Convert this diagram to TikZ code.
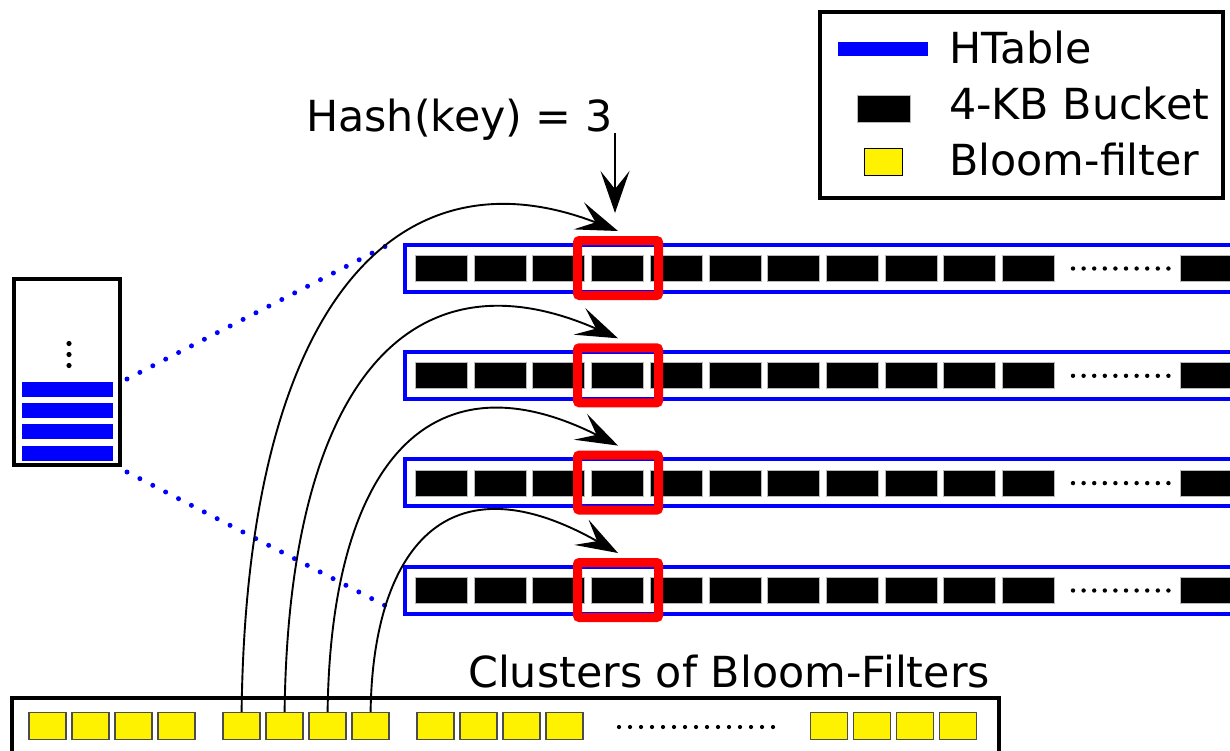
\documentclass[tikz,border=0pt]{standalone}
\usepackage{fontspec}
\setmainfont{DejaVu Sans}
\usetikzlibrary{arrows.meta}
\begin{document}
\begin{tikzpicture}[x=1pt,y=-1pt,
  bucket/.style={draw=gray!55,line width=1pt,fill=black,minimum width=52pt,minimum height=26pt,inner sep=0pt},
  htable/.style={draw=blue,line width=4pt},
  hit/.style={draw=red,line width=9pt,rounded corners=2pt,minimum width=81pt,minimum height=55pt,inner sep=0pt},
  bloom/.style={draw=black!70,line width=1.5pt,fill=yellow,minimum width=37pt,minimum height=27pt,inner sep=0pt},
  bar/.style={fill=blue,minimum width=91pt,minimum height=15pt,inner sep=0pt},
  link/.style={line width=1.9pt,-{Stealth[length=42pt,width=29pt,inset=18pt]}},
  lbl/.style={font=\fontsize{42.8}{50}\selectfont,inner sep=0pt,anchor=base west},
  dotline/.style={blue,line width=5pt,line cap=round,dash pattern=on 0pt off 14.5pt}]

\useasboundingbox (0,0) rectangle (1230,750);
\clip (0,0) rectangle (1230,750);

% ---- legend ----
\draw[line width=4pt] (820,12) rectangle (1223,198);
\fill[blue] (838,42) rectangle (928,56);
\node[bucket,minimum width=53pt,minimum height=27pt] (legbucket) at (883.5,108.5) {};
\node[bloom,draw=black,minimum width=38pt,minimum height=27pt] (legbloom) at (883.5,162) {};
\node[lbl] (legA) at (949,63) {HTable};
\node[lbl] (legB) at (949,119) {4-KB Bucket};
\node[lbl] (legC) at (949,175) {Bloom-filter};

% ---- hash tables with their buckets ----
\foreach \r/\yc in {1/268,2/375.3,3/482.6,4/590} {
  \draw[htable] (405,\yc-23.5) rectangle (1245,\yc+23.5);
  \foreach \k in {0,...,10}
    \node[bucket] (bk\r-\k) at ({441.5+58.7*\k},\yc+0.5) {};
  \node[bucket] (bk\r-last) at (1206,\yc+0.5) {};
  \foreach \d in {0,...,9}
    \fill (1073+10.6*\d,\yc+0.5) circle (2.2pt);
  \node[hit] (hit\r) at (618,\yc) {};
}

% ---- directory box on the left ----
\node[draw,line width=4pt,minimum width=106pt,minimum height=186pt,inner sep=0pt] (dir) at (67,372) {};
\foreach \i/\yy in {1/389,2/410,3/431.5,4/453}
  \node[bar] (bar\i) at (67.5,\yy) {};
\foreach \yy in {343.5,354.5,365.5}
  \fill (69,\yy) circle (2.6pt);

\coordinate (dirtop) at (127,379);
\coordinate (dirbot) at (127,472);
\coordinate (rowtop) at (386,246);
\coordinate (rowbot) at (386,606);
\draw[dotline] (dirtop) -- (rowtop);
\draw[dotline] (dirbot) -- (rowbot);

% ---- clusters of bloom filters ----
\draw[line width=3.5pt] (12,698) rectangle (999,765);
\node[lbl] (clab) at (468,687) {Clusters of Bloom-Filters};
\foreach \g/\x in {0/28.6,1/222.6,2/416.5,3/810}
  \foreach \j in {0,...,3}
    \node[bloom] (bf\g-\j) at ({\x+19+43*\j},726) {};
\foreach \d in {0,...,14}
  \fill (619+11*\d,727) circle (2.1pt);

% ---- lookups from the filters to the buckets ----
\draw[link] (bf1-0.north) .. controls +(5,-410) and +(-220,-85) .. ([yshift=5pt]hit1.north);
\draw[link] (bf1-1.north) .. controls +(4,-330) and +(-207,-91) .. ([yshift=5pt]hit2.north);
\draw[link] (bf1-2.north) .. controls +(3,-240) and +(-193,-97) .. ([yshift=5pt]hit3.north);
\draw[link] (bf1-3.north) .. controls +(2,-150) and +(-180,-102) .. ([yshift=5pt]hit4.north);

% ---- hash label ----
\node[lbl] (hash) at (306,131) {Hash(key) = 3};
\coordinate (hashtail) at (615,133);
\coordinate (hashtip) at (615,213);
\draw[link] (hashtail) -- (hashtip);
\end{tikzpicture}
\end{document}
